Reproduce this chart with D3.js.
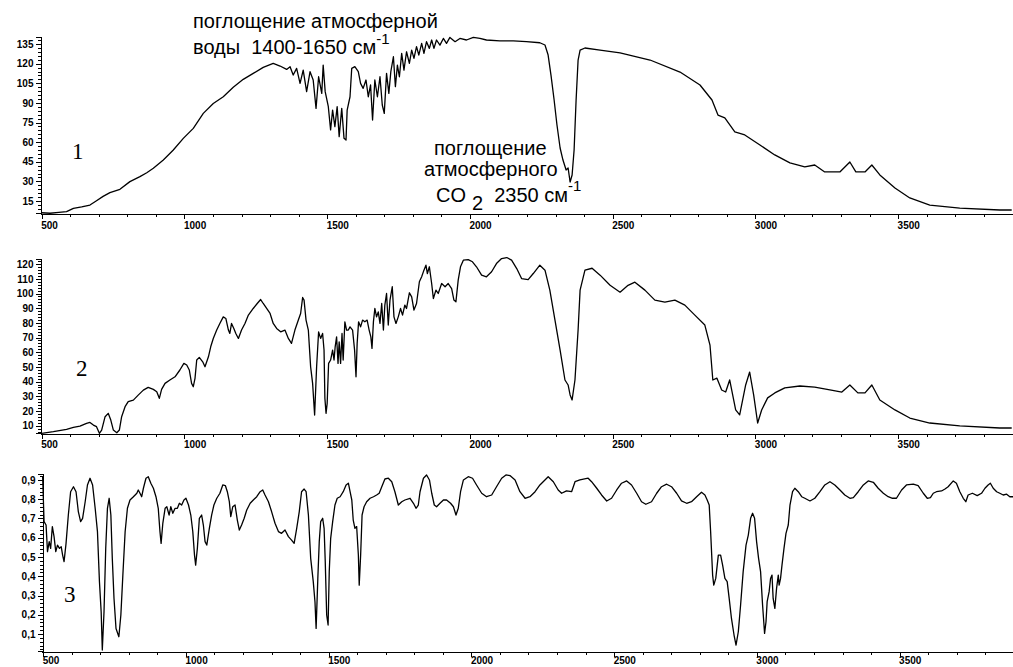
<!DOCTYPE html>
<html>
<head>
<meta charset="utf-8">
<script src="https://cdn.jsdelivr.net/npm/d3@7"></script>
<style>
  html, body { margin: 0; padding: 0; background: #fff; }
  svg { display: block; }
  .axis path, .axis line { stroke: #000; stroke-width: 1; shape-rendering: crispEdges; }
  .axis text { font-family: "Liberation Sans Narrow", "Liberation Sans", sans-serif; font-weight: bold; font-size: 10px; fill: #000; }
  .trace { fill: none; stroke: #000; stroke-width: 1.3; stroke-linejoin: round; }
  .note { font-family: "Liberation Sans", Arial, sans-serif; font-size: 20px; fill: #000; white-space: pre; }
  .num { font-family: "Liberation Serif", "Times New Roman", serif; font-size: 23px; fill: #000; }
</style>
</head>
<body>
<svg id="chart" width="1013" height="667"></svg>
<script>
// Wavenumber axis, cm^-1
const waveTicks = [500, 1000, 1500, 2000, 2500, 3000, 3500];
const waveTickLabels = ["500", "1000", "1500", "2000", "2500", "3000", "3500"];

// Spectrum 1: background single-beam spectrum (atmospheric water and CO2 bands)
const spectrum1 = [
  [500,6.0],[529,5.6],[560,6.3],[587,6.8],[611,9.4],[640,10.5],[669,11.9],[692,15.2],[715,18.5],[739,21.4],
  [774,23.9],[809,29.8],[844,33.6],[868,36.6],[891,40.0],[926,46.3],[961,54.0],[996,62.9],[1031,70.5],[1066,82.0],
  [1101,89.6],[1136,94.7],[1171,101.9],[1206,108.0],[1241,112.6],[1276,117.2],[1311,120.2],[1335,118.2],[1358,115.6],
  [1370,117.7],[1381,111.3],[1393,116.4],[1405,104.9],[1416,115.1],[1428,98.6],[1440,113.9],[1451,107.5],[1461,85.8],
  [1470,110.0],[1481,97.3],[1486,118.9],[1493,98.6],[1504,87.1],[1512,69.3],[1519,84.5],[1527,71.8],[1535,87.1],
  [1542,64.2],[1551,85.8],[1559,62.9],[1566,61.6],[1570,84.5],[1580,94.7],[1586,116.4],[1597,117.7],[1609,113.9],
  [1617,104.9],[1626,101.1],[1636,107.5],[1644,94.7],[1652,103.7],[1659,76.9],[1667,107.5],[1676,94.7],[1685,110.0],
  [1693,88.4],[1700,82.0],[1708,112.6],[1716,97.3],[1723,113.9],[1732,125.3],[1739,102.4],[1746,118.9],[1753,110.0],
  [1761,127.9],[1769,115.1],[1778,129.1],[1788,120.2],[1796,130.4],[1804,124.0],[1813,133.0],[1821,126.6],[1831,135.5],
  [1839,127.9],[1848,136.8],[1858,131.7],[1866,138.1],[1874,131.7],[1883,138.1],[1895,134.2],[1907,139.3],[1918,135.5],
  [1930,140.1],[1948,136.8],[1965,139.3],[1988,138.1],[2012,140.1],[2035,139.3],[2058,138.1],[2105,137.5],[2152,137.5],
  [2198,136.8],[2245,136.0],[2263,134.3],[2274,126.6],[2284,111.3],[2295,92.2],[2305,73.1],[2316,55.5],[2326,46.3],
  [2337,38.7],[2344,40.2],[2351,29.5],[2358,34.9],[2365,54.0],[2372,92.2],[2379,122.8],[2386,130.4],[2403,132.0],
  [2456,130.4],[2526,128.2],[2631,122.8],[2736,113.6],[2806,103.7],[2848,92.2],[2869,80.7],[2893,78.5],[2928,67.8],
  [2963,65.5],[3016,57.8],[3068,50.2],[3121,44.1],[3173,41.0],[3208,42.5],[3243,37.2],[3296,37.2],[3331,44.8],
  [3352,37.2],[3384,37.2],[3408,42.5],[3436,34.9],[3489,24.9],[3541,17.3],[3611,11.9],[3716,9.6],[3856,8.1],[3898,8.1]
];
const ticks1 = [15, 30, 45, 60, 75, 90, 105, 120, 135];
const tickLabels1 = ["15", "30", "45", "60", "75", "90", "105", "120", "135"];

// Spectrum 2: sample single-beam spectrum
const spectrum2 = [
  [500,4.8],[541,5.9],[587,7.5],[611,8.8],[634,9.7],[657,11.6],[669,12.2],[681,10.4],[692,9.3],[702,4.8],
  [710,7.0],[722,16.1],[733,18.4],[742,13.8],[751,7.0],[763,5.2],[772,7.0],[780,16.1],[792,22.9],[803,26.3],
  [821,27.4],[838,30.8],[856,34.2],[873,36.1],[891,34.7],[903,33.1],[912,28.6],[920,34.7],[932,38.8],[949,41.1],
  [967,43.3],[984,47.9],[998,52.4],[1008,51.3],[1017,47.9],[1025,38.8],[1031,36.5],[1037,42.2],[1043,54.7],[1052,56.5],
  [1064,53.5],[1072,50.1],[1084,56.9],[1092,63.7],[1101,69.4],[1113,75.1],[1124,79.6],[1136,84.1],[1145,83.0],[1154,75.1],
  [1159,72.8],[1165,79.6],[1173,76.2],[1180,72.8],[1189,69.4],[1200,75.1],[1212,79.6],[1224,85.3],[1241,89.8],[1255,93.2],
  [1267,95.9],[1276,93.2],[1288,89.8],[1300,86.4],[1311,79.6],[1323,76.2],[1337,73.9],[1352,75.1],[1364,69.4],[1375,66.0],
  [1387,75.1],[1399,81.9],[1407,86.4],[1414,97.3],[1419,95.5],[1426,81.9],[1434,75.1],[1442,50.1],[1449,38.8],[1456,17.2],
  [1463,50.1],[1470,73.9],[1477,69.4],[1484,72.8],[1489,61.5],[1492,28.6],[1496,18.4],[1500,25.2],[1505,52.4],[1512,54.7],
  [1519,61.5],[1524,54.7],[1528,63.7],[1533,70.5],[1538,52.4],[1542,67.1],[1547,52.4],[1552,72.8],[1556,54.7],[1562,80.7],
  [1568,75.1],[1574,75.1],[1580,77.3],[1589,75.1],[1596,61.5],[1601,43.3],[1605,66.0],[1610,80.7],[1617,77.3],[1624,81.9],
  [1632,80.7],[1640,81.9],[1647,75.1],[1653,70.5],[1657,62.6],[1662,80.7],[1667,89.8],[1673,84.1],[1679,87.5],[1685,79.6],
  [1691,93.2],[1697,75.1],[1702,92.1],[1708,100.0],[1714,78.5],[1720,95.5],[1728,104.6],[1734,84.1],[1741,79.6],[1749,84.1],
  [1757,89.8],[1764,85.3],[1772,92.1],[1778,89.8],[1788,100.5],[1796,97.7],[1804,88.7],[1813,93.2],[1823,108.0],[1831,111.4],
  [1839,115.9],[1846,119.3],[1851,113.6],[1858,118.2],[1866,106.8],[1872,96.6],[1881,102.3],[1889,100.0],[1901,106.8],[1913,104.6],
  [1924,106.8],[1936,103.4],[1944,95.5],[1951,94.3],[1959,109.1],[1967,118.2],[1977,122.7],[1994,123.1],[2009,121.6],[2023,118.2],
  [2041,112.5],[2058,111.4],[2076,114.8],[2093,120.4],[2111,123.8],[2129,124.5],[2146,122.7],[2164,117.0],[2181,110.2],[2204,109.5],
  [2222,113.6],[2245,119.3],[2263,115.9],[2280,102.3],[2298,81.9],[2316,61.5],[2333,41.1],[2344,37.7],[2351,30.9],[2358,27.5],
  [2368,41.1],[2379,75.1],[2386,102.3],[2403,115.9],[2428,117.2],[2456,112.5],[2491,105.6],[2526,100.9],[2554,105.6],[2578,107.7],
  [2613,102.3],[2648,95.5],[2683,94.1],[2718,95.5],[2753,92.1],[2788,85.3],[2823,78.5],[2841,64.9],[2851,41.1],[2865,42.4],
  [2882,34.3],[2896,32.9],[2910,41.1],[2931,20.7],[2945,17.3],[2966,37.7],[2980,46.5],[2994,30.9],[3008,11.8],[3022,20.7],
  [3043,28.9],[3068,32.3],[3103,35.7],[3156,37.0],[3208,36.3],[3261,34.3],[3303,32.9],[3331,37.7],[3359,32.3],[3384,32.3],
  [3408,37.7],[3436,27.5],[3489,20.7],[3541,15.2],[3611,11.8],[3716,9.8],[3856,8.4],[3898,8.4]
];
const ticks2 = [10, 20, 30, 40, 50, 60, 70, 80, 90, 100, 110, 120];
const tickLabels2 = ["10", "20", "30", "40", "50", "60", "70", "80", "90", "100", "110", "120"];

// Spectrum 3: transmittance of the sample (ratio of spectrum 2 to spectrum 1)
const spectrum3 = [
  [498,0.917],[503,0.684],[510,0.666],[515,0.528],[521,0.580],[526,0.545],[532,0.658],[538,0.606],[544,0.528],[550,0.562],
  [557,0.545],[563,0.554],[568,0.510],[573,0.476],[580,0.571],[588,0.718],[596,0.839],[606,0.865],[615,0.839],[623,0.736],
  [631,0.684],[638,0.701],[647,0.787],[655,0.874],[664,0.909],[673,0.874],[682,0.753],[690,0.632],[697,0.372],[703,0.216],
  [707,0.017],[713,0.216],[719,0.545],[725,0.753],[731,0.805],[737,0.718],[742,0.493],[748,0.285],[755,0.129],[765,0.086],
  [772,0.199],[779,0.406],[787,0.632],[795,0.753],[804,0.796],[816,0.813],[828,0.831],[833,0.848],[839,0.831],[845,0.813],
  [851,0.857],[860,0.909],[868,0.917],[877,0.883],[886,0.857],[895,0.813],[903,0.753],[909,0.632],[913,0.571],[919,0.675],
  [927,0.753],[933,0.761],[941,0.718],[947,0.761],[954,0.727],[962,0.753],[970,0.753],[977,0.779],[985,0.770],[993,0.796],
  [1000,0.805],[1009,0.770],[1017,0.718],[1024,0.632],[1030,0.510],[1034,0.458],[1040,0.545],[1047,0.701],[1055,0.718],[1061,0.666],
  [1067,0.580],[1073,0.562],[1082,0.649],[1090,0.718],[1098,0.770],[1108,0.805],[1119,0.831],[1129,0.874],[1138,0.871],[1145,0.839],
  [1152,0.787],[1157,0.710],[1164,0.761],[1172,0.770],[1180,0.692],[1187,0.640],[1195,0.666],[1204,0.701],[1213,0.744],[1225,0.779],
  [1236,0.796],[1248,0.813],[1260,0.839],[1269,0.848],[1277,0.822],[1289,0.787],[1300,0.736],[1312,0.675],[1324,0.632],[1335,0.623],
  [1347,0.640],[1359,0.606],[1370,0.588],[1379,0.571],[1388,0.649],[1397,0.736],[1405,0.839],[1414,0.853],[1421,0.839],[1429,0.718],
  [1437,0.493],[1446,0.372],[1452,0.268],[1456,0.129],[1462,0.389],[1467,0.580],[1472,0.684],[1479,0.701],[1484,0.649],[1488,0.476],
  [1493,0.199],[1498,0.147],[1502,0.424],[1507,0.597],[1514,0.684],[1522,0.770],[1530,0.805],[1540,0.813],[1551,0.839],[1561,0.874],
  [1569,0.883],[1575,0.839],[1581,0.796],[1586,0.692],[1592,0.649],[1598,0.658],[1604,0.510],[1607,0.354],[1612,0.510],[1617,0.718],
  [1624,0.761],[1633,0.787],[1645,0.805],[1657,0.813],[1668,0.822],[1677,0.831],[1686,0.865],[1697,0.905],[1709,0.909],[1721,0.891],
  [1732,0.839],[1744,0.770],[1756,0.787],[1767,0.796],[1785,0.805],[1797,0.779],[1806,0.753],[1814,0.770],[1820,0.839],[1832,0.909],
  [1843,0.926],[1853,0.900],[1861,0.831],[1870,0.770],[1878,0.761],[1890,0.779],[1902,0.796],[1913,0.796],[1927,0.779],[1937,0.761],
  [1946,0.718],[1954,0.753],[1962,0.839],[1972,0.900],[1989,0.917],[2004,0.909],[2018,0.874],[2036,0.831],[2053,0.813],[2071,0.822],
  [2088,0.865],[2106,0.909],[2121,0.926],[2135,0.923],[2153,0.900],[2170,0.839],[2188,0.805],[2205,0.813],[2223,0.839],[2240,0.874],
  [2269,0.917],[2287,0.891],[2304,0.848],[2316,0.831],[2333,0.843],[2351,0.839],[2363,0.891],[2380,0.900],[2409,0.909],[2421,0.891],
  [2439,0.857],[2456,0.822],[2474,0.791],[2491,0.805],[2509,0.848],[2526,0.883],[2544,0.895],[2561,0.874],[2579,0.831],[2596,0.787],
  [2611,0.774],[2631,0.787],[2649,0.831],[2666,0.865],[2684,0.878],[2701,0.865],[2719,0.831],[2736,0.791],[2754,0.779],[2771,0.787],
  [2789,0.813],[2806,0.836],[2818,0.822],[2826,0.796],[2833,0.770],[2838,0.632],[2845,0.406],[2849,0.354],[2856,0.389],[2865,0.510],
  [2873,0.510],[2880,0.458],[2888,0.389],[2896,0.372],[2903,0.285],[2911,0.181],[2920,0.095],[2927,0.043],[2935,0.112],[2943,0.251],
  [2952,0.424],[2962,0.562],[2970,0.614],[2978,0.701],[2985,0.727],[2992,0.701],[2999,0.580],[3006,0.493],[3013,0.424],[3020,0.251],
  [3027,0.103],[3032,0.164],[3036,0.268],[3043,0.320],[3048,0.389],[3053,0.406],[3057,0.285],[3063,0.233],[3069,0.337],[3075,0.406],
  [3078,0.354],[3083,0.389],[3088,0.458],[3095,0.545],[3102,0.623],[3110,0.666],[3116,0.770],[3125,0.839],[3133,0.857],[3145,0.839],
  [3157,0.813],[3168,0.805],[3186,0.791],[3203,0.805],[3221,0.839],[3238,0.874],[3256,0.891],[3273,0.874],[3291,0.848],[3308,0.822],
  [3326,0.805],[3338,0.808],[3355,0.839],[3373,0.874],[3390,0.895],[3408,0.888],[3425,0.857],[3443,0.831],[3460,0.813],[3475,0.805],
  [3489,0.805],[3507,0.848],[3524,0.874],[3548,0.878],[3565,0.871],[3583,0.831],[3597,0.805],[3608,0.808],[3618,0.831],[3629,0.839],
  [3647,0.843],[3659,0.853],[3670,0.865],[3688,0.895],[3699,0.883],[3711,0.839],[3723,0.805],[3732,0.787],[3740,0.822],[3755,0.831],
  [3772,0.819],[3787,0.831],[3799,0.857],[3810,0.874],[3818,0.883],[3828,0.857],[3840,0.839],[3851,0.831],[3863,0.822],[3875,0.826],
  [3886,0.813],[3898,0.813]
];
const ticks3 = [0.1, 0.2, 0.3, 0.4, 0.5, 0.6, 0.7, 0.8, 0.9];
const tickLabels3 = ["0,1", "0,2", "0,3", "0,4", "0,5", "0,6", "0,7", "0,8", "0,9"];

// Panel layout (pixel geometry of each plot frame)
const panels = [
  { data: spectrum1, ticks: ticks1, labels: tickLabels1, yDomain: [5.8, 140.4], top: 37, bottom: 213, left: 40,
    minor: { from: 6, to: 140, step: 3 }, num: "1", numX: 72, numY: 159, labelY: 8 },
  { data: spectrum2, ticks: ticks2, labels: tickLabels2, yDomain: [5.2, 123.5], top: 259, bottom: 432.7, left: 40,
    minor: { from: 6, to: 122, step: 2 }, num: "2", numX: 76, numY: 376, labelY: 7 },
  { data: spectrum3, ticks: ticks3, labels: tickLabels3, yDomain: [0.012, 0.931], top: 474, bottom: 651, left: 41.5,
    minor: { from: 0.02, to: 0.92, step: 0.02 }, num: "3", numX: 64, numY: 602, labelY: 5 }
];

const svg = d3.select("#chart");
const waveDomain = [494, 3899];

panels.forEach(p => {
  const x = d3.scaleLinear().domain(waveDomain).range([p.left, p.left + 972]);
  const y = d3.scaleLinear().domain(p.yDomain).range([p.bottom, p.top]);
  const g = svg.append("g");

  // minor ticks on the wavenumber axis every 100 cm^-1
  const xMinor = d3.range(500, 3900, 100);
  g.append("g").attr("class", "axis")
    .attr("transform", `translate(0,${Math.round(p.bottom) + 0.5})`)
    .call(d3.axisBottom(x).tickValues(xMinor).tickSize(3).tickFormat(""))
    .call(a => a.select(".domain").remove());

  g.append("g").attr("class", "axis")
    .attr("transform", `translate(0,${Math.round(p.bottom) + 0.5})`)
    .call(d3.axisBottom(x).tickValues(waveTicks).tickSize(5).tickSizeOuter(0)
      .tickFormat((d, i) => waveTickLabels[i]))
    .call(a => a.selectAll("text").attr("text-anchor", "start").attr("x", -1).attr("y", p.labelY));

  // value axis
  const yMinor = d3.range(p.minor.from, p.minor.to + 1e-9, p.minor.step);
  g.append("g").attr("class", "axis")
    .attr("transform", `translate(${Math.round(p.left) + 0.5},0)`)
    .call(d3.axisLeft(y).tickValues(yMinor).tickSize(3).tickFormat(""))
    .call(a => a.select(".domain").remove());

  g.append("g").attr("class", "axis")
    .attr("transform", `translate(${Math.round(p.left) + 0.5},0)`)
    .call(d3.axisLeft(y).tickValues(p.ticks).tickSize(5).tickSizeOuter(5)
      .tickFormat((d, i) => p.labels[i]))
    .call(a => a.selectAll("text").attr("x", -7));

  // spectrum trace
  const line = d3.line().x(d => x(d[0])).y(d => y(d[1]));
  g.append("path").attr("class", "trace").attr("d", line(p.data));

  // panel number
  g.append("text").attr("class", "num").attr("x", p.numX).attr("y", p.numY).text(p.num);
});

// Annotations on spectrum 1
svg.append("text").attr("class", "note").attr("x", 193).attr("y", 28).text("поглощение атмосферной");
const w2 = svg.append("text").attr("class", "note").attr("x", 193).attr("y", 54);
w2.append("tspan").text("воды  1400-1650 см");
w2.append("tspan").attr("dy", -10).style("font-size", "15px").text("-1");

const co2 = svg.append("g");
co2.append("text").attr("class", "note").attr("x", 434).attr("y", 155).text("поглощение");
co2.append("text").attr("class", "note").attr("x", 424).attr("y", 176).text("атмосферного");
const c3 = co2.append("text").attr("class", "note").attr("x", 436).attr("y", 202);
c3.append("tspan").text("CO");
c3.append("tspan").attr("dx", 6).attr("dy", 8).text("2");
c3.append("tspan").attr("dy", -8).text("  2350 см");
c3.append("tspan").attr("dy", -11).style("font-size", "15px").text("-1");
</script>
</body>
</html>
